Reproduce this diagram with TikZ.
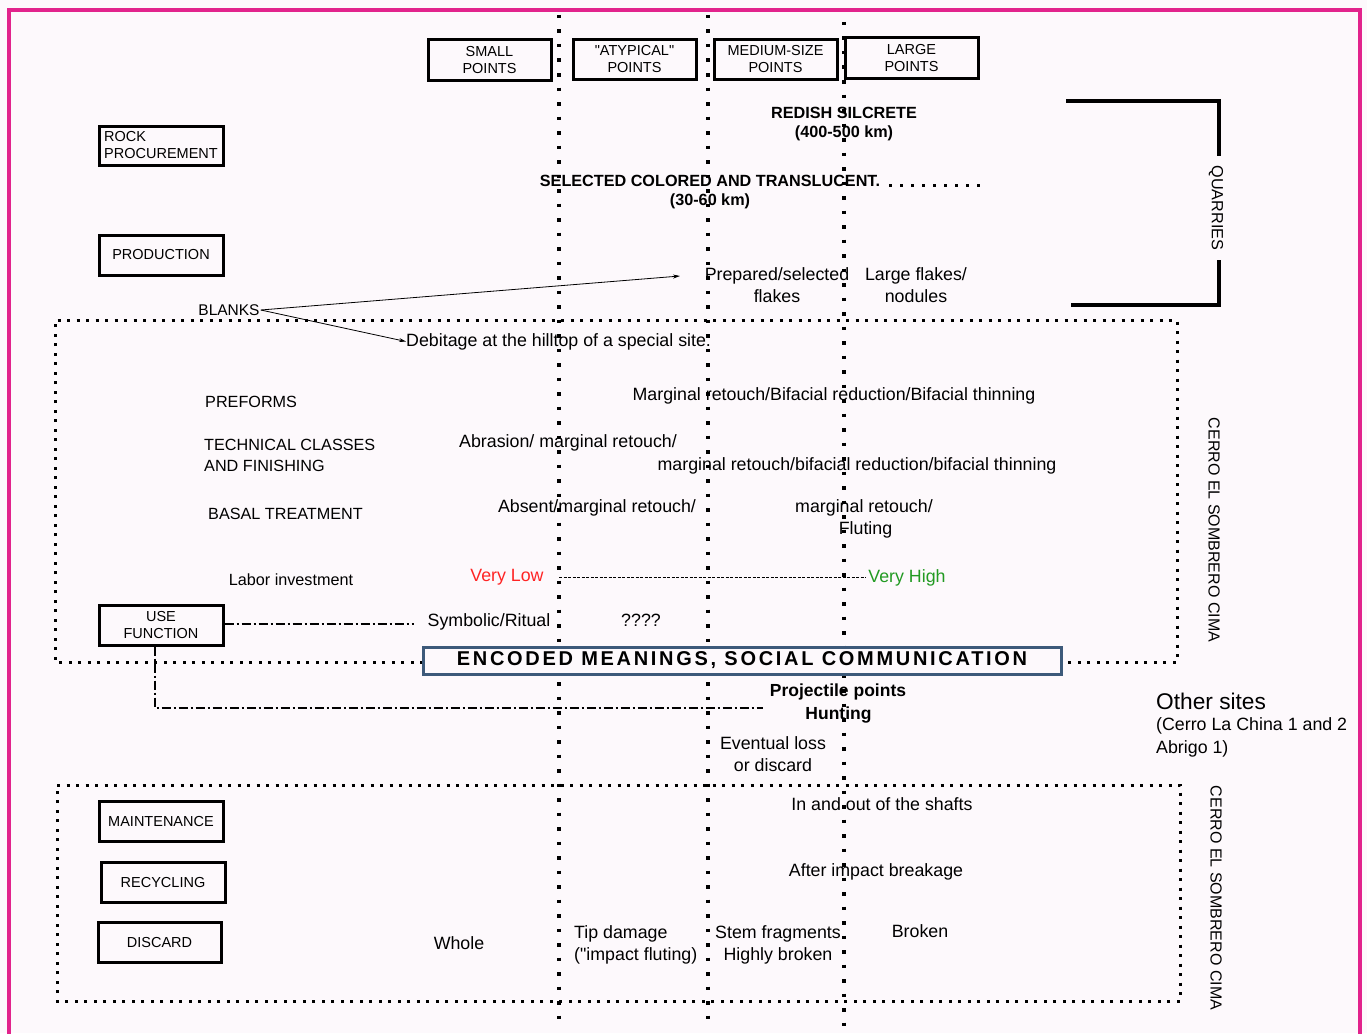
\documentclass[tikz,border=0pt]{standalone}
\usepackage{fontspec}
\setmainfont{Liberation Sans}
\usetikzlibrary{arrows.meta}
\definecolor{bgc}{HTML}{FDF9FC}
\definecolor{pinkb}{HTML}{E2238C}
\definecolor{encblue}{HTML}{3D5A7A}
\definecolor{vlow}{HTML}{FF2424}
\definecolor{vhigh}{HTML}{229A22}
\tikzset{
  bigdots/.style={line width=3.5pt, dash pattern=on 3.5pt off 11pt},
  boxdots/.style={line width=3pt, dash pattern=on 3pt off 6.5pt},
  catbox/.style={draw, line width=3pt, fill=bgc, inner sep=0pt, align=center, font=\fontsize{14.5}{17}\selectfont},
  txt/.style={inner sep=0pt, align=center, yshift=-1.5pt, font=\fontsize{17.8}{22}\selectfont},
  btxt/.style={inner sep=0pt, align=center, yshift=-1pt, font=\fontsize{16.2}{20}\selectfont\bfseries},
  ltxt/.style={inner sep=0pt, align=left, anchor=west, yshift=-1pt, font=\fontsize{16.2}{21}\selectfont},
  dashdot/.style={line width=1.4pt, dash pattern=on 9pt off 3pt on 2pt off 3pt},
  arr/.style={line width=0.8pt, -{Stealth[length=7pt,width=4pt]}}
}
\begin{document}
\begin{tikzpicture}[x=1pt,y=-1pt]
\useasboundingbox (0,0) rectangle (1367,1033);
\fill[bgc] (0,0) rectangle (1367,1033);
% pink frame
\draw[pinkb, line width=4pt] (9,1040) -- (9,10) -- (1360,10) -- (1360,1040);

% column separators
\coordinate (c1t) at (559,15); \coordinate (c1b) at (559,1022);
\coordinate (c2t) at (708,15); \coordinate (c2b) at (708,1026);
\coordinate (c3t) at (844,22); \coordinate (c3b) at (844,1030);
\draw[bigdots] (c1t) -- (c1b);
\draw[bigdots] (c2t) -- (c2b);
\draw[bigdots] (c3t) -- (c3b);

% dotted regions
\coordinate (m1) at (55,320); \coordinate (m2) at (1177,320);
\coordinate (m3) at (1177,662); \coordinate (m4) at (55,662);
\draw[boxdots] (423,662) -- (m4) -- (m1) -- (m2) -- (m3) -- (1061,662);
\coordinate (b1) at (57,785); \coordinate (b2) at (1180,785);
\coordinate (b3) at (1180,1001); \coordinate (b4) at (57,1001);
\draw[boxdots] (b1) -- (b2) -- (b3) -- (b4) -- cycle;

% top category boxes
\node[catbox, minimum width=123pt, minimum height=40pt] (small) at (489.5,60) {SMALL\\POINTS};
\node[catbox, minimum width=123pt, minimum height=39pt] (atyp) at (634.5,59.5) {\textquotedbl ATYPICAL\textquotedbl\\POINTS};
\node[catbox, minimum width=123pt, minimum height=39pt] (medium) at (775.5,59.5) {MEDIUM-SIZE\\POINTS};
\node[catbox, minimum width=133pt, minimum height=40pt] (large) at (911.5,58) {LARGE\\POINTS};

% left stage boxes
\node[catbox, minimum width=124pt, minimum height=39pt, align=left] (rock) at (161,145.5) {ROCK\\PROCUREMENT};
\node[catbox, minimum width=124pt, minimum height=40pt] (prod) at (161,255) {PRODUCTION};
\node[catbox, minimum width=124pt, minimum height=40pt] (use) at (161,625) {USE\\FUNCTION};
\node[catbox, minimum width=124pt, minimum height=40pt] (maint) at (161,821) {MAINTENANCE};
\node[catbox, minimum width=124pt, minimum height=40pt] (recyc) at (163,882) {RECYCLING};
\node[catbox, minimum width=123pt, minimum height=40pt] (disc) at (159.5,942) {DISCARD};

% quarries bracket
\node[inner sep=0pt, rotate=-90, font=\fontsize{16.2}{18}\selectfont] (quar) at (1216,208) {QUARRIES};
\draw[line width=4pt] (1066,101) -- (1219,101) -- (1219,156);
\draw[line width=4pt] (1219,260) -- (1219,305) -- (1071,305);

% raw materials
\node[btxt] (redish) at (844,112) {REDISH SILCRETE};
\node[btxt] (redkm) at (844,132) {(400-500 km)};
\node[btxt] (selected) at (710,180) {SELECTED COLORED AND TRANSLUCENT.};
\node[btxt] (selkm) at (710,200) {(30-60 km)};
\coordinate (seldotsA) at (889,185);
\coordinate (seldotsB) at (982,185);
\draw[line width=3pt, dash pattern=on 3pt off 8pt] (seldotsA) -- (seldotsB);

% production
\node[txt] (prep) at (777,284) {Prepared/selected\\flakes};
\node[txt] (lflakes) at (916,284) {Large flakes/\\nodules};
\node[inner sep=1pt, font=\fontsize{15.5}{17}\selectfont] (blanks) at (229,310) {BLANKS};
\node[txt, anchor=west] (debit) at (406,340) {Debitage at the hilltop of a special site.};
\coordinate (preparr) at (680,276);
\draw[arr] (blanks.east) -- (preparr);
\draw[arr] (blanks.east) -- (debit.west);

% technical rows
\node[ltxt] (preforms) at (205,401) {PREFORMS};
\node[txt] (margret) at (834,394) {Marginal retouch/Bifacial reduction/Bifacial thinning};
\node[ltxt] (techcl) at (204,454.5) {TECHNICAL CLASSES\\AND FINISHING};
\node[txt] (abras) at (568,441) {Abrasion/ marginal retouch/};
\node[txt] (margbif) at (857,464) {marginal retouch/bifacial reduction/bifacial thinning};
\node[ltxt] (basal) at (208,513) {BASAL TREATMENT};
\node[txt] (absent) at (597,506) {Absent/marginal retouch/};
\node[txt] (fluting) at (864,517) {marginal retouch/\\\hspace*{3pt}Fluting};

% labor investment
\node[txt, font=\fontsize{16.2}{18}\selectfont] (labor) at (291,578) {Labor investment};
\node[txt, text=vlow] (vlow) at (507,576) {Very Low};
\node[txt, text=vhigh] (vhigh) at (907,576) {Very High};
\coordinate (lowend) at (559,577);
\coordinate (highend) at (866,577);
\draw[line width=0.9pt, dash pattern=on 3pt off 1.5pt] (lowend) -- (highend);

% use function
\node[txt] (symb) at (489,620) {Symbolic/Ritual};
\node[txt] (quest) at (641,619) {????};
\coordinate (symbend) at (414,624);
\draw[dashdot] (use.east |- symbend) -- (symbend);
\coordinate (huntcorner) at (155,708);
\coordinate (huntend) at (763,708);
\draw[dashdot] (use.south -| huntcorner) -- (huntcorner) -- (huntend);

% encoded meanings
\node[draw=encblue, line width=3pt, fill=bgc, minimum width=638pt, minimum height=27pt, inner sep=0pt,
  font=\fontsize{20}{21}\selectfont\bfseries\addfontfeatures{LetterSpace=13.5}] (enc) at (742,660.5)
  {ENCODED MEANINGS, SOCIAL COMMUNICATION};

% hunting
\node[btxt, font=\fontsize{17.5}{23}\selectfont\bfseries] (proj) at (838,702.5) {Projectile points\\\hspace*{1pt}Hunting};
\node[txt] (loss) at (773,753) {Eventual loss\\or discard};

% other sites
\node[inner sep=0pt, anchor=west, font=\fontsize{22.7}{25}\selectfont] (other) at (1156,701) {Other sites};
\node[inner sep=0pt, anchor=north west, align=left, font=\fontsize{17.8}{23}\selectfont] (otherlist) at (1156,717) {(Cerro La China 1 and 2\\Abrigo 1)};

% site labels
\node[inner sep=0pt, rotate=-90, font=\fontsize{16}{18}\selectfont] (cerro1) at (1214,530) {CERRO EL SOMBRERO CIMA};
\node[inner sep=0pt, rotate=-90, font=\fontsize{16}{18}\selectfont] (cerro2) at (1216,898) {CERRO EL SOMBRERO CIMA};

% maintenance / recycling / discard
\node[txt] (shafts) at (882,803) {In and out of the shafts};
\node[txt] (impact) at (876,870) {After impact breakage};
\node[txt] (whole) at (459,942) {Whole};
\node[txt, align=left, anchor=west] (tip) at (574,943) {Tip damage\\(\textquotedbl impact fluting)};
\node[txt] (stem) at (778,943) {Stem fragments\\Highly broken};
\node[txt] (broken) at (920,930) {Broken};
\end{tikzpicture}
\end{document}
